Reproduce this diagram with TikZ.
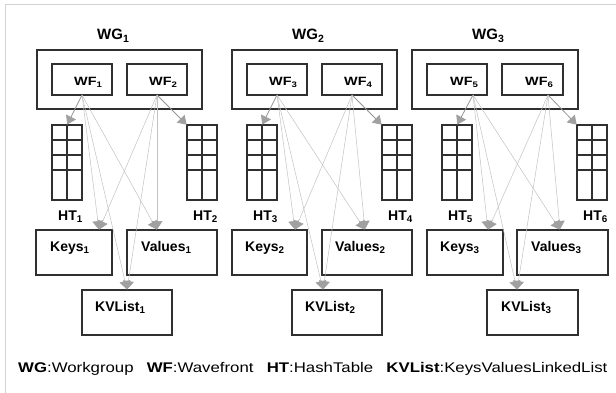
\documentclass[tikz,border=0pt]{standalone}
\usepackage{fontspec}
\usepackage{graphicx}
\setmainfont{Liberation Sans}
\usetikzlibrary{arrows.meta}

\definecolor{framegray}{HTML}{D2D2D2}
\definecolor{boxline}{HTML}{303030}
\definecolor{linkline}{HTML}{C2C2C2}
\definecolor{htline}{HTML}{959595}
\definecolor{tipgray}{HTML}{A0A0A0}

\newcommand{\lblfont}{\bfseries\fontsize{14}{16}\selectfont}
\newcommand{\wffont}{\bfseries\fontsize{12}{14}\selectfont}
\newcommand{\wftext}[1]{\scalebox{1.2}[1]{WF\textsubscript{#1}}}

\tikzset{
  box/.style={draw=boxline, line width=1.1pt, inner sep=0pt, outer sep=0pt},
  tbl/.style={box, minimum width=30pt, minimum height=75pt},
  lbl/.style={inner sep=0pt, anchor=base west, font=\lblfont},
  wglbl/.style={lbl, font=\bfseries\fontsize{15}{17}\selectfont},
  wflbl/.style={inner sep=0pt, anchor=base west, font=\wffont},
  link/.style={draw=linkline, line width=0.5pt,
    -{Triangle[length=8.5pt,width=11pt,color=tipgray]}, shorten >=0.5pt},
  htlink/.style={link, draw=htline, line width=0.8pt},
}

% box from (x1,y1) to (x2,y2), y measured downwards
\newcommand{\boxat}[6][]{%
  \node[box, minimum width=#4pt-#2pt, minimum height=#5pt-#3pt, #1]
    (#6) at ({(#2+#4)/2}, {(#3+#5)/2}) {};}

% hash table with three short rows and one tall row
\newcommand{\hashtable}[3]{%
  \node[tbl] (#1) at (#2+15, 162.5) {};
  \draw[boxline, line width=1.1pt] (#1.north) -- (#1.south);
  \foreach \r in {15,30,45}
    \draw[boxline, line width=1.1pt]
      ([yshift=-\r pt]#1.north west) -- ([yshift=-\r pt]#1.north east);
  \node[lbl, anchor=base east] (#1lbl) at (#2+31, 220) {HT\textsubscript{#3}};}

\begin{document}
\begin{tikzpicture}[x=1pt, y=-1pt]
  \useasboundingbox (0,0) rectangle (616,393);
  \draw[framegray, line width=1.5pt] (5.5,393) -- (5.5,4.5) -- (616,4.5);

  % workgroups and their wavefronts
  \boxat{37}{50}{202}{109}{wg1}
  \boxat{232}{50}{397}{109}{wg2}
  \boxat{412}{50}{578}{109}{wg3}
  \node[wglbl] (wg1lbl) at (97,40) {WG\textsubscript{1}};
  \node[wglbl] (wg2lbl) at (292,40) {WG\textsubscript{2}};
  \node[wglbl] (wg3lbl) at (472,40) {WG\textsubscript{3}};

  \boxat{52}{64}{112}{95}{wf1}
  \boxat{127}{64}{187}{95}{wf2}
  \boxat{247}{64}{307}{95}{wf3}
  \boxat{322}{64}{382}{95}{wf4}
  \boxat{427}{64}{487}{95}{wf5}
  \boxat{502}{64}{563}{95}{wf6}
  \node[wflbl] (wf1lbl) at (74,86) {\wftext{1}};
  \node[wflbl] (wf2lbl) at (149,86) {\wftext{2}};
  \node[wflbl] (wf3lbl) at (269,86) {\wftext{3}};
  \node[wflbl] (wf4lbl) at (344,86) {\wftext{4}};
  \node[wflbl] (wf5lbl) at (450,86) {\wftext{5}};
  \node[wflbl] (wf6lbl) at (525,86) {\wftext{6}};

  % hash tables
  \hashtable{ht1}{52}{1}
  \hashtable{ht2}{187}{2}
  \hashtable{ht3}{247}{3}
  \hashtable{ht4}{382}{4}
  \hashtable{ht5}{442}{5}
  \hashtable{ht6}{577}{6}

  % keys, values and linked lists
  \boxat{36}{230}{112}{275}{keys1}
  \boxat{127}{230}{217}{275}{vals1}
  \boxat{82}{290}{172}{335}{kvl1}
  \boxat{232}{230}{307}{275}{keys2}
  \boxat{322}{230}{412}{275}{vals2}
  \boxat{292}{290}{382}{335}{kvl2}
  \boxat{427}{230}{503}{275}{keys3}
  \boxat{517}{230}{608}{275}{vals3}
  \boxat{487}{290}{578}{335}{kvl3}

  \node[lbl] (keys1lbl) at (50,251.5) {Keys\textsubscript{1}};
  \node[lbl] (vals1lbl) at (141,251.5) {Values\textsubscript{1}};
  \node[lbl] (kvl1lbl) at (95,311.5) {KVList\textsubscript{1}};
  \node[lbl] (keys2lbl) at (245,251.5) {Keys\textsubscript{2}};
  \node[lbl] (vals2lbl) at (335,251.5) {Values\textsubscript{2}};
  \node[lbl] (kvl2lbl) at (305,311.5) {KVList\textsubscript{2}};
  \node[lbl] (keys3lbl) at (440,251.5) {Keys\textsubscript{3}};
  \node[lbl] (vals3lbl) at (531,251.5) {Values\textsubscript{3}};
  \node[lbl] (kvl3lbl) at (501,311.5) {KVList\textsubscript{3}};

  % wavefront sources
  \coordinate (s1) at (wf1.south);
  \coordinate (s2) at (wf2.south);
  \coordinate (s3) at (wf3.south);
  \coordinate (s4) at (wf4.south);
  \coordinate (s5) at ([xshift=16pt]wf5.south);
  \coordinate (s6) at ([xshift=15.5pt]wf6.south);

  % group 1
  \draw[htlink] (s1) -- (ht1.north);
  \draw[htlink] (s2) -- (ht2.north west);
  \draw[link] (s1) -- ([xshift=63pt]keys1.north west);
  \draw[link] (s2) -- ([xshift=63pt]keys1.north west);
  \draw[link] (s1) -- ([xshift=30pt]vals1.north west);
  \draw[link] (s2) -- ([xshift=30pt]vals1.north west);
  \draw[link] (s1) -- (kvl1.north);
  \draw[link] (s2) -- (kvl1.north);

  % group 2
  \draw[htlink] (s3) -- (ht3.north);
  \draw[htlink] (s4) -- (ht4.north west);
  \draw[link] (s3) -- ([xshift=63pt]keys2.north west);
  \draw[link] (s4) -- ([xshift=63pt]keys2.north west);
  \draw[link] (s3) -- ([xshift=43pt]vals2.north west);
  \draw[link] (s4) -- ([xshift=43pt]vals2.north west);
  \draw[link] (s3) -- ([xshift=31pt]kvl2.north west);
  \draw[link] (s4) -- ([xshift=31pt]kvl2.north west);

  % group 3
  \draw[htlink] (s5) -- (ht5.north);
  \draw[htlink] (s6) -- (ht6.north west);
  \draw[link] (s5) -- ([xshift=61pt]keys3.north west);
  \draw[link] (s6) -- ([xshift=61pt]keys3.north west);
  \draw[link] (s5) -- ([xshift=43pt]vals3.north west);
  \draw[link] (s6) -- ([xshift=43pt]vals3.north west);
  \draw[link] (s5) -- ([xshift=30pt]kvl3.north west);
  \draw[link] (s6) -- ([xshift=30pt]kvl3.north west);

  % legend
  \node[inner sep=0pt, anchor=base west, font=\fontsize{14}{16}\selectfont] (legend) at (18,372)
    {\scalebox{1.2}[1]{\textbf{WG}:Workgroup\hspace{11pt}\textbf{WF}:Wavefront\hspace{11pt}\textbf{HT}:HashTable\hspace{11pt}\textbf{KVList}:KeysValuesLinkedList}};
\end{tikzpicture}
\end{document}
